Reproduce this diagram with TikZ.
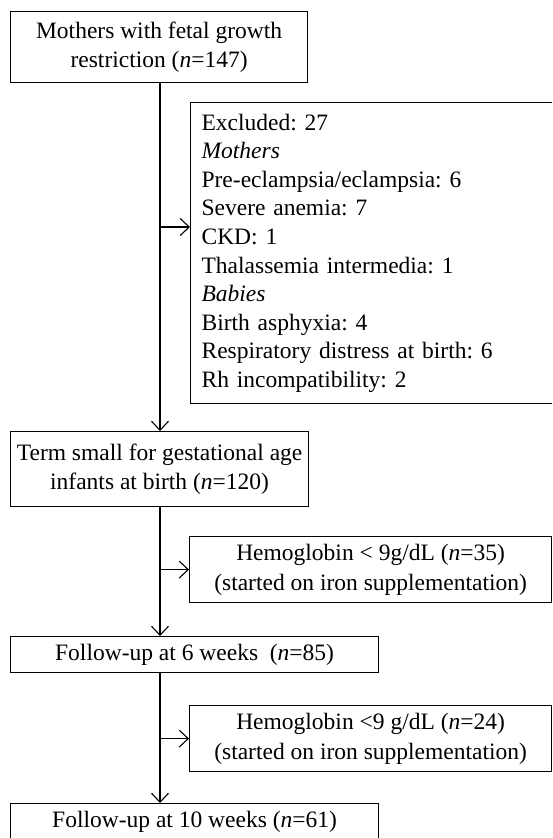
\documentclass[tikz,border=0pt]{standalone}
\usepackage{fontspec}
\setmainfont{Liberation Serif}
\usetikzlibrary{positioning, arrows.meta}
\frenchspacing

\begin{document}
\begin{tikzpicture}[
    x = 1pt, y = -1pt,
    line width = 1.2pt,
    font = \fontsize{23.5}{29.5}\selectfont,
    flow/.style = {-{Straight Barb[length=9pt, width=17pt, line width=1.1pt]}},
    box/.style = {draw, rectangle, align=center, inner sep=0pt, anchor=north west},
    listbox/.style = {draw, rectangle, align=left, inner xsep=11pt, inner ysep=0pt,
                      anchor=north west, font=\fontsize{23.5}{28.6}\selectfont}
]
\clip (0,0) rectangle (552,838);

% Boxes
\node[box, minimum width=297, minimum height=71]  (mothers) at (10,11)
    {Mothers with fetal growth\\restriction (\textit{n}=147)};
\node[listbox, text width=398, minimum height=301] (exclude) at (190,102)
    {Excluded: 27\\
     \textit{Mothers}\\
     Pre-eclampsia/eclampsia: 6\\
     Severe anemia: 7\\
     CKD: 1\\
     Thalassemia intermedia: 1\\
     \textit{Babies}\\
     Birth asphyxia: 4\\
     Respiratory distress at birth: 6\\
     Rh incompatibility: 2};
\node[box, minimum width=298, minimum height=75]  (term)    at (10,431)
    {Term small for gestational age\\infants at birth (\textit{n}=120)};
\node[box, minimum width=362, minimum height=66]  (hemo1)   at (189,536)
    {Hemoglobin < 9g/dL (\textit{n}=35)\\(started on iron supplementation)};
\node[box, minimum width=368, minimum height=36]  (week6)   at (10,636)
    {Follow-up at 6 weeks~ (\textit{n}=85)};
\node[box, minimum width=362, minimum height=66]  (hemo2)   at (189,705)
    {Hemoglobin <9 g/dL (\textit{n}=24)\\(started on iron supplementation)};
\node[box, minimum width=368, minimum height=36]  (week10)  at (10,803)
    {Follow-up at 10 weeks (\textit{n}=61)};

% Spine
\coordinate (spine)   at (160,0);
\coordinate (exclpin) at (160,227);

\draw[flow] (mothers.south -| spine) -- (term.north -| spine);
\draw[flow] (exclpin) -- (exclpin -| exclude.west);

\draw[flow] (term.south -| spine) -- (week6.north -| spine);
\draw[flow] (hemo1.west -| spine) -- (hemo1.west);

\draw[flow] (week6.south -| spine) -- (week10.north -| spine);
\draw[flow] (hemo2.west -| spine) -- (hemo2.west);

\end{tikzpicture}
\end{document}
